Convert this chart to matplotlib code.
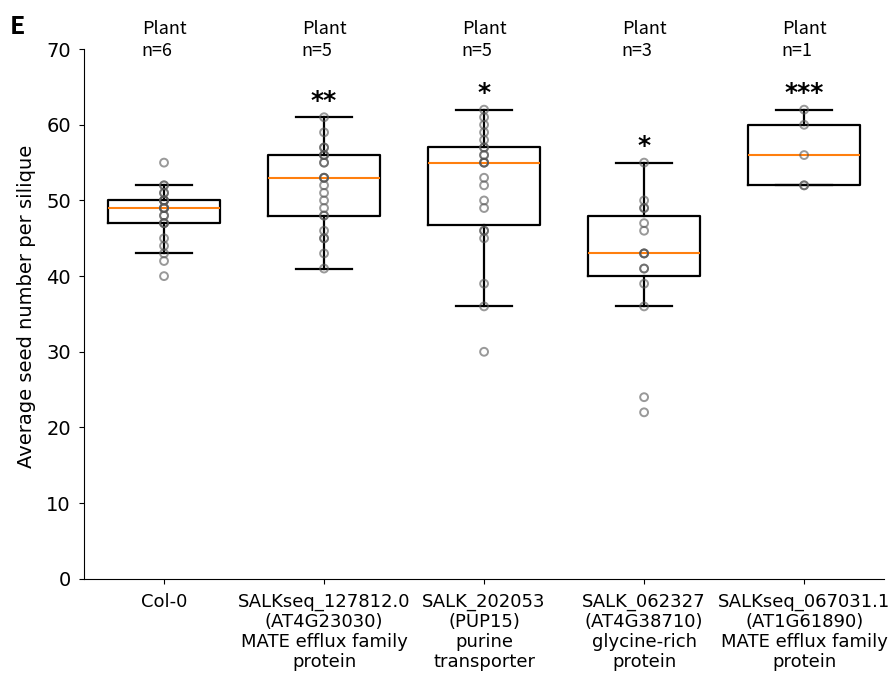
import matplotlib.pyplot as plt

plt.rcParams['font.family'] = ['DejaVu Sans']

# seed counts per silique for each line
col0 = [40, 42, 43, 44, 45, 47, 47, 47, 48, 48, 49, 49, 49, 49, 50, 50, 50, 50, 51, 51, 52, 52, 55]
salk_127812 = [41, 43, 45, 45, 46, 48, 48, 49, 50, 51, 52, 53, 53, 53, 55, 55, 56, 56, 56, 57, 57, 59, 61]
salk_202053 = [30, 36, 39, 45, 46, 46, 49, 50, 52, 53, 55, 55, 55, 56, 56, 57, 57, 58, 59, 60, 61, 62]
salk_062327 = [22, 24, 36, 39, 41, 41, 43, 43, 43, 46, 47, 49, 49, 50, 55]
salk_067031 = [52, 52, 56, 60, 62]

groups = [col0, salk_127812, salk_202053, salk_062327, salk_067031]
labels = ["Col-0",
          "SALKseq_127812.0\n(AT4G23030)\nMATE efflux family\nprotein",
          "SALK_202053\n(PUP15)\npurine\ntransporter",
          "SALK_062327\n(AT4G38710)\nglycine-rich\nprotein",
          "SALKseq_067031.1\n(AT1G61890)\nMATE efflux family\nprotein"]
plants = [6, 5, 5, 3, 1]
stars = ["", "**", "*", "*", "***"]

fig = plt.figure(figsize=(8.91, 6.73), dpi=100)
ax = fig.add_axes([0.0943, 0.140, 0.898, 0.787])

pos = list(range(1, len(groups) + 1))
ax.boxplot(groups, positions=pos, widths=0.7, showfliers=False,
           boxprops=dict(linewidth=1.6, color='black'),
           whiskerprops=dict(linewidth=1.6, color='black'),
           capprops=dict(linewidth=1.6, color='black'),
           medianprops=dict(linewidth=1.5, color='#ff7f0e'))

for p, g in zip(pos, groups):
    ax.scatter([p] * len(g), g, s=32, facecolors='none', edgecolors='#555555',
               linewidths=1.4, alpha=0.6, zorder=3)

for p, g, s, n in zip(pos, groups, stars, plants):
    if s:
        ax.text(p, max(g) + 0.6, s, ha='center', va='bottom', fontsize=18, fontweight='bold')
    ax.text(p, 68.6, "Plant\nn=%d" % n, ha='center', va='bottom', multialignment='left',
            fontsize=13, family=['Noto Sans CJK KR', 'DejaVu Sans'], clip_on=False,
            linespacing=1.25)

ax.set_ylim(0, 70)
ax.set_xlim(0.5, 5.5)
ax.set_xticks(pos)
ax.set_xticklabels(labels, fontsize=13, linespacing=1.15)
ax.tick_params(axis='x', pad=6.5)
ax.tick_params(axis='y', labelsize=14, pad=6)
ax.set_ylabel("Average seed number per silique", fontsize=14)
ax.yaxis.set_label_coords(-0.06, 0.515)
ax.spines['top'].set_visible(False)
ax.spines['right'].set_visible(False)

fig.text(0.011, 0.978, "E", fontsize=18, fontweight='bold', va='top',
         family=['Noto Sans CJK KR', 'DejaVu Sans'])

fig.savefig("out.png", dpi=100)
